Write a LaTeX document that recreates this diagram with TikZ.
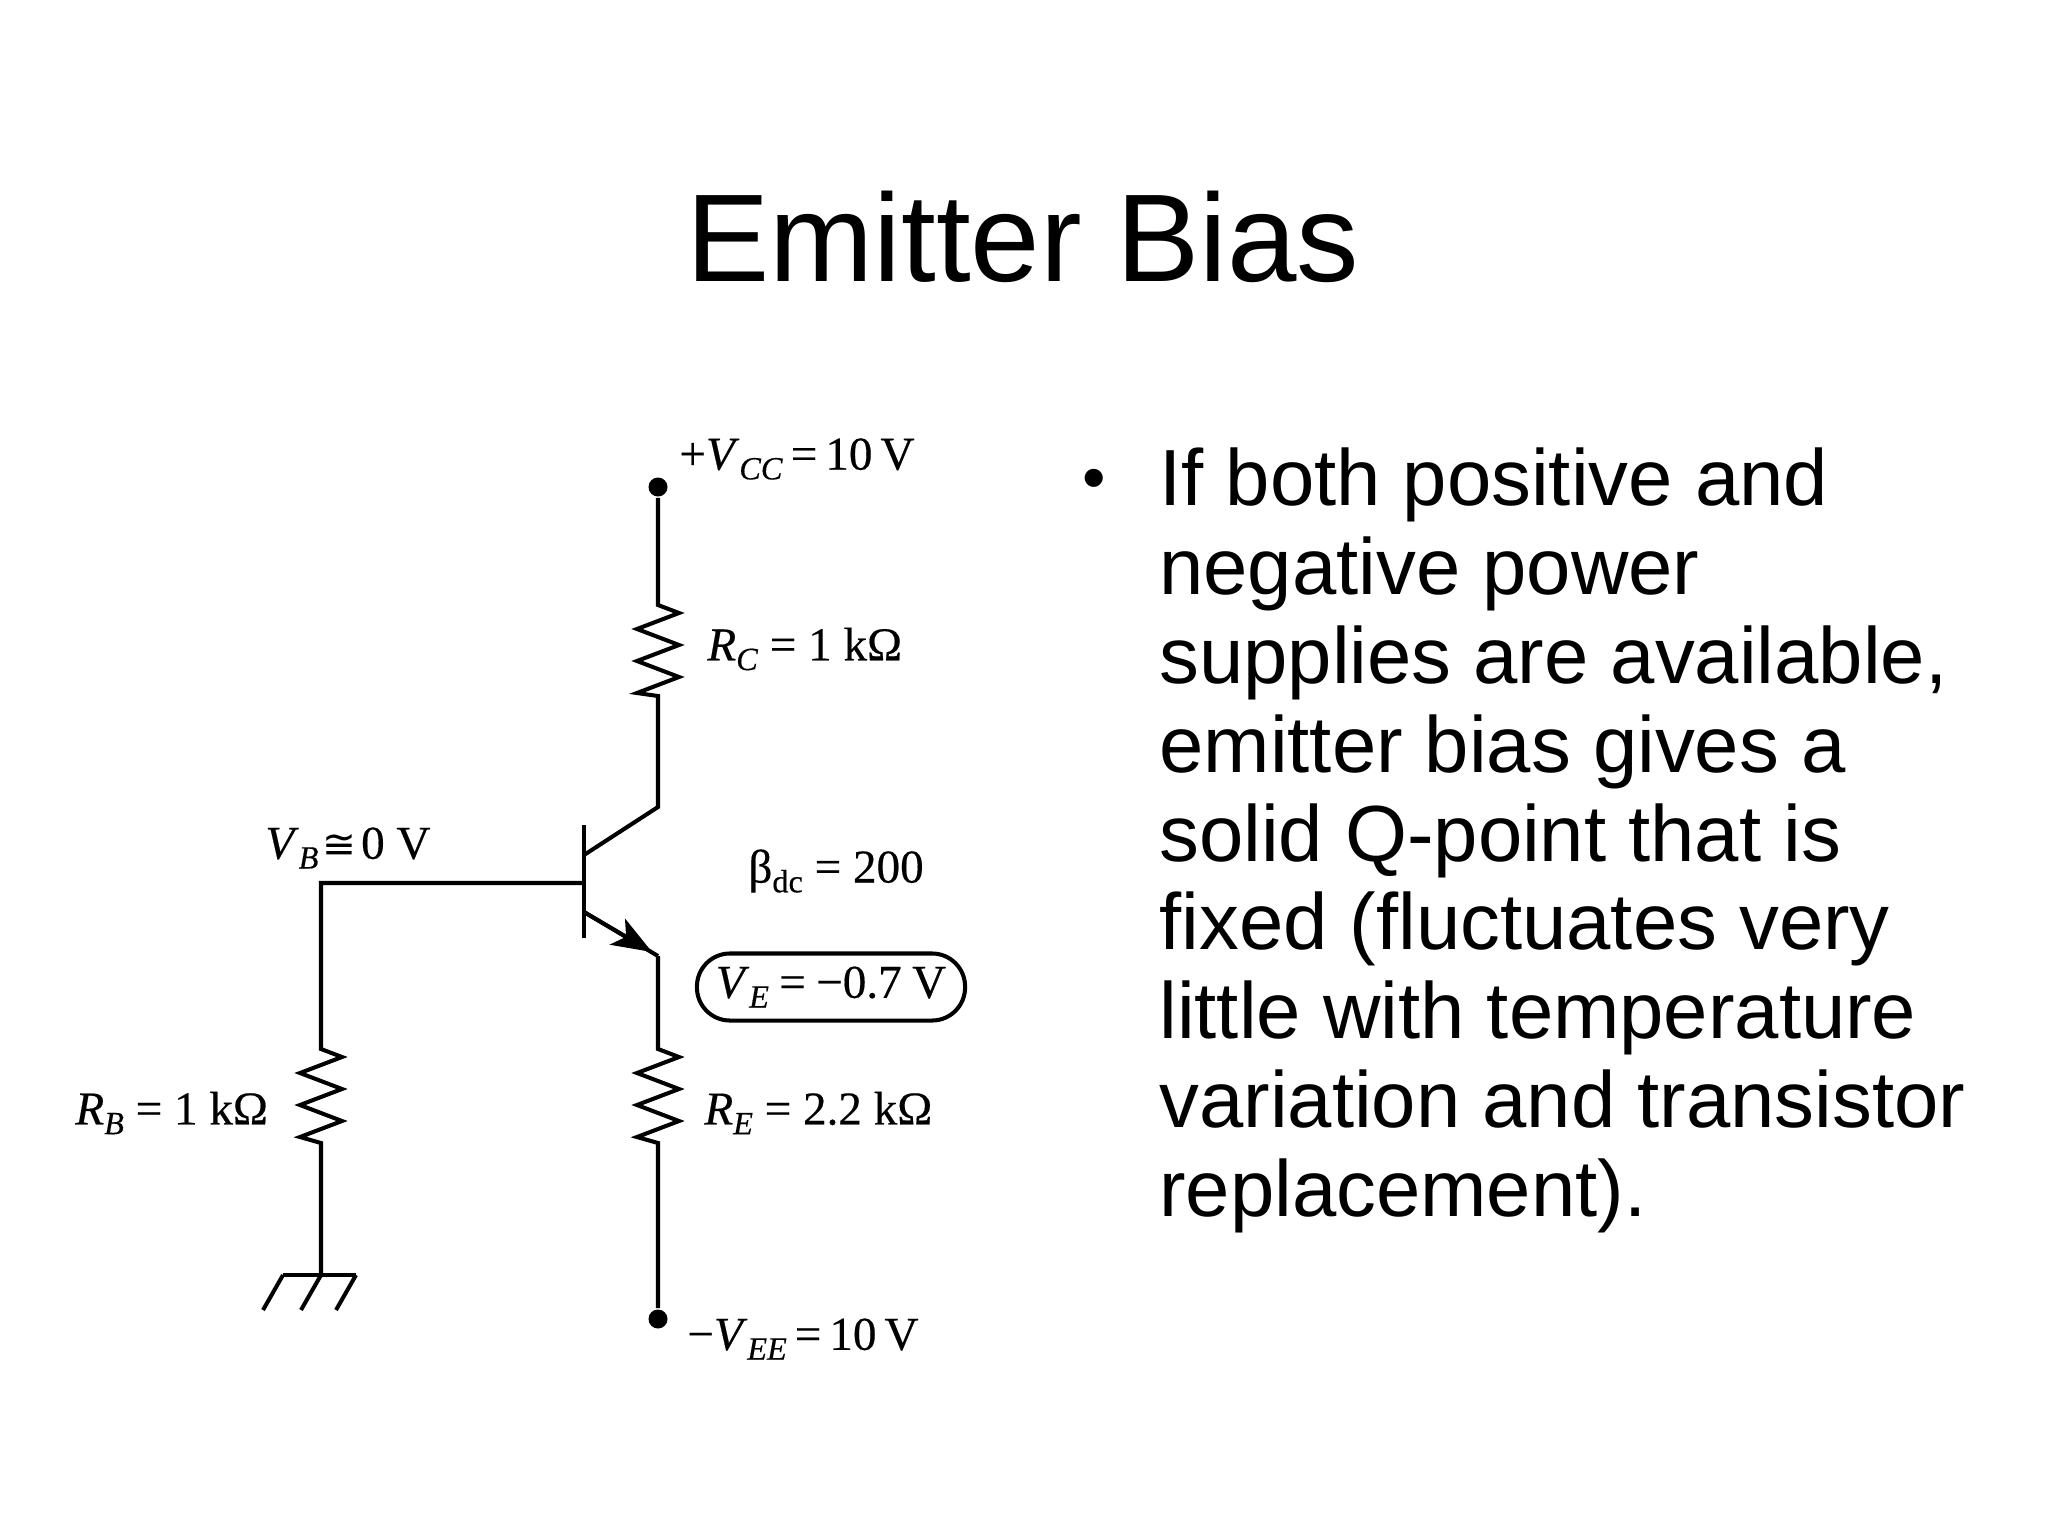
\documentclass[tikz,border=0pt]{standalone}
\usepackage{fontspec}
\setmainfont{Liberation Sans}
\newfontfamily\bookfont[FakeBold=0.4]{Liberation Serif}
\newfontfamily\symbfont{DejaVu Sans}
\usetikzlibrary{arrows.meta}
\newcommand{\lab}[2]{\textit{#1}\raisebox{-.45ex}{\fontsize{9.2}{10}\selectfont\textit{#2}}}
\tikzset{resistor/.style={to path={-- ++(21,8) -- ++(-42,16) -- ++(42,16) -- ++(-42,16) -- ++(42,16) -- ++(-42,16) -- (\tikztotarget)}}}
\begin{document}
\begin{tikzpicture}[x=0.01cm, y=-0.01cm, thick,
        wire/.style = {line width=1.15pt},
        dot/.style = {circle, fill=black, inner sep=0pt, minimum size=0.19cm},
        val/.style = {inner sep=0pt, anchor=west, font=\bookfont\fontsize{13.4}{15}\selectfont}]
        \useasboundingbox (0,0) rectangle (2048,1536);

        \node (title) [anchor=base, font=\fontsize{35.5}{40}\selectfont] at (1023,281) {Emitter Bias};
        \node (bullet) [anchor=base, font=\fontsize{19}{20}\selectfont] at (1094,500) {\textbullet};
        \node (body) [anchor=north west, inner sep=0pt, align=left, font=\fontsize{22.65}{25.3}\selectfont] at (1158,446)
            {If both positive and\\negative power\\supplies are available,\\emitter bias gives a\\solid Q-point that is\\fixed (fluctuates very\\little with temperature\\variation and transistor\\replacement).};

        \node[dot] (vcc) at (658,487) {};
        \node[dot] (vee) at (658,1319) {};
        \coordinate (rctop) at (658,605);
        \coordinate (rcbot) at (658,696);
        \coordinate (coll) at (658,807);
        \coordinate (emit) at (658,956);
        \coordinate (tip) at (652,952);
        \coordinate (retop) at (658,1049);
        \coordinate (rebot) at (658,1143);
        \coordinate (bartop) at (584,825);
        \coordinate (barbot) at (584,938);
        \coordinate (base) at (584,883);
        \coordinate (barcoll) at (584,855);
        \coordinate (baremit) at (584,912);
        \coordinate (corner) at (321,883);
        \coordinate (rbtop) at (321,1049);
        \coordinate (rbbot) at (321,1143);
        \coordinate (gnd) at (321,1275);
        \coordinate (gndl) at (283,1275);
        \coordinate (gndr) at (356,1275);

        \draw[wire] (vcc) -- (rctop) to[resistor] (rcbot) -- (coll) -- (barcoll);
        \draw[wire] (bartop) -- (barbot);
        \draw[wire] (base) -- (corner) -- (rbtop) to[resistor] (rbbot) -- (gnd);
        \draw[wire] (baremit) -- (emit);
        \draw[wire, -{Stealth[length=0.4cm, width=0.3cm, inset=0.1cm]}] (baremit) -- (tip);
        \draw[wire] (emit) -- (retop) to[resistor] (rebot) -- (vee);
        \draw[wire] (gndl) -- (gndr);
        \draw[wire] (gndl) -- ++(-20,35) (gnd) -- ++(-20,35) (gndr) -- ++(-20,35);

        \node[val] (vcclab) at (678,459) {\spaceskip=.17em +\lab{V}{CC} = 10 V};
        \node[val] (rclab) at (706,649) {\lab{R}{C} = 1 kΩ};
        \node[val] (vblab) at (264,848) {\lab{V}{B}\hspace{1pt}{\symbfont\fontsize{11.5}{15}\selectfont ≅}\hspace{1.5pt}0 V};
        \node[val] (betalab) at (747,871) {β\raisebox{-.45ex}{\fontsize{9.2}{10}\selectfont dc} = 200};
        \node[val, anchor=center, draw, wire, rounded corners=0.33cm, minimum width=2.68cm, minimum height=0.67cm] (velab) at (831,987) {\raisebox{-.5pt}{\spaceskip=.22em \lab{V}{E} = −0.7 V}};
        \node[val] (relab) at (703,1113) {\lab{R}{E} = 2.2 kΩ};
        \node[val] (rblab) at (74,1113) {\lab{R}{B} = 1 kΩ};
        \node[val] (veelab) at (686,1339) {\spaceskip=.17em −\lab{V}{EE} = 10 V};
    \end{tikzpicture}
\end{document}
